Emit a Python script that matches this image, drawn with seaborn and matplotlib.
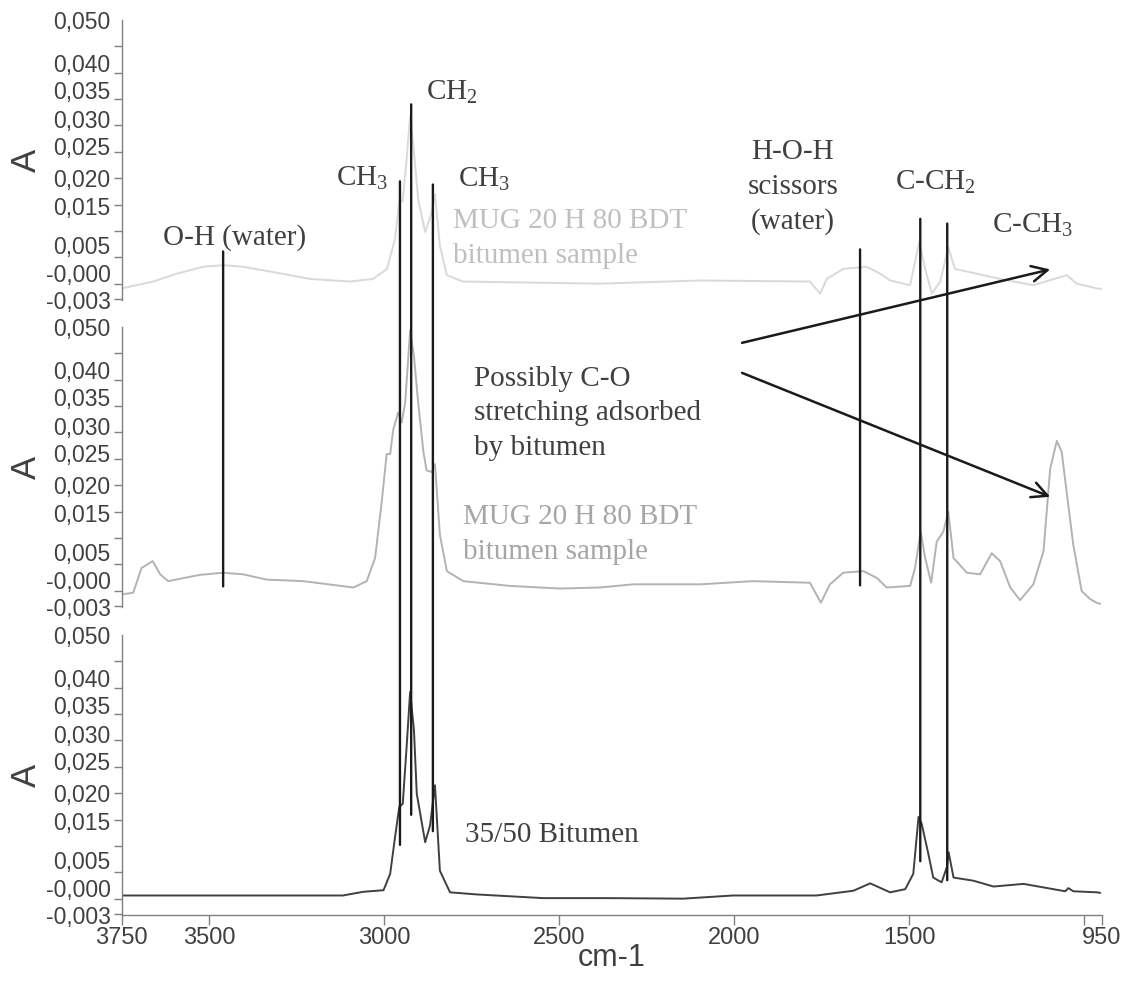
import numpy as np
import pandas as pd
import matplotlib
matplotlib.use("Agg")
import matplotlib.pyplot as plt
import seaborn as sns
from matplotlib.patches import ConnectionPatch

# ---------------- data ----------------
top_wn = [3750, 3660, 3592, 3517, 3460, 3403, 3326, 3212, 3098, 3032,
          2992, 2969, 2957, 2947, 2936, 2926, 2915, 2903, 2883, 2867,
          2855, 2841, 2821, 2775, 2384, 2098, 1784, 1755, 1736, 1689,
          1622, 1584, 1555, 1498, 1472, 1455, 1436, 1412, 1389, 1370,
          1336, 1241, 1147, 1051, 1022, 965, 950]
top_abs = [-0.0009, 0.0004, 0.0019, 0.0032, 0.0035, 0.0032, 0.0023, 0.0009, 0.0004, 0.0009,
           0.0028, 0.0085, 0.0155, 0.0157, 0.0236, 0.0318, 0.0249, 0.0160, 0.0098, 0.0129,
           0.0170, 0.0072, 0.0016, 0.0004, 0.0000, 0.0006, 0.0004, -0.0019, 0.0009, 0.0028,
           0.0032, 0.0019, 0.0006, -0.0003, 0.0079, 0.0028, -0.0019, 0.0004, 0.0069, 0.0028,
           0.0023, 0.0009, -0.0003, 0.0016, 0.0000, -0.0009, -0.0010]

mid_wn = [3750, 3717, 3693, 3661, 3640, 3617, 3526, 3460, 3403, 3336,
          3231, 3088, 3050, 3026, 3007, 2993, 2983, 2974, 2960, 2950,
          2940, 2926, 2915, 2903, 2888, 2879, 2864, 2855, 2841, 2821,
          2774, 2641, 2498, 2384, 2289, 2098, 1947, 1784, 1753, 1727,
          1689, 1631, 1593, 1565, 1498, 1484, 1468, 1455, 1438, 1422,
          1403, 1389, 1374, 1336, 1298, 1265, 1241, 1212, 1184, 1146,
          1117, 1098, 1079, 1065, 1051, 1032, 1008, 984, 965, 955]
mid_abs = [-0.0007, -0.0004, 0.0043, 0.0056, 0.0031, 0.0018, 0.0030, 0.0034, 0.0031, 0.0021,
           0.0018, 0.0006, 0.0018, 0.0062, 0.0169, 0.0259, 0.0259, 0.0306, 0.0338, 0.0319,
           0.0357, 0.0494, 0.0444, 0.0357, 0.0263, 0.0228, 0.0225, 0.0240, 0.0106, 0.0037,
           0.0018, 0.0009, 0.0004, 0.0006, 0.0012, 0.0012, 0.0018, 0.0015, -0.0023, 0.0012,
           0.0034, 0.0037, 0.0024, 0.0006, 0.0009, 0.0043, 0.0112, 0.0062, 0.0015, 0.0093,
           0.0112, 0.0150, 0.0062, 0.0034, 0.0031, 0.0071, 0.0056, 0.0006, -0.0018, 0.0012,
           0.0075, 0.0231, 0.0284, 0.0263, 0.0187, 0.0087, -0.0001, -0.0016, -0.0023, -0.0025]

bot_wn = [3750, 3118, 3060, 3002, 2983, 2969, 2957, 2947, 2936, 2926,
          2915, 2907, 2883, 2869, 2855, 2841, 2812, 2736, 2546, 2355,
          2146, 2004, 1765, 1660, 1612, 1555, 1512, 1489, 1474, 1465,
          1446, 1432, 1408, 1393, 1388, 1374, 1317, 1260, 1174, 1055,
          1046, 1032, 965, 955]
bot_abs = [0.0006, 0.0006, 0.0013, 0.0016, 0.0047, 0.0117, 0.0174, 0.0180, 0.0288, 0.0392,
           0.0319, 0.0199, 0.0107, 0.0139, 0.0215, 0.0053, 0.0012, 0.0008, 0.0001, 0.0001,
           0.0000, 0.0006, 0.0006, 0.0015, 0.0029, 0.0012, 0.0018, 0.0047, 0.0155, 0.0142,
           0.0085, 0.0040, 0.0031, 0.0060, 0.0088, 0.0040, 0.0034, 0.0023, 0.0028, 0.0014,
           0.0020, 0.0014, 0.0012, 0.0011]

series_names = ["MUG 20 H 80 BDT bitumen sample (top)",
                "MUG 20 H 80 BDT bitumen sample",
                "35/50 Bitumen"]

# y axis ticks / labels
ytick_vals = [0.050, 0.045, 0.040, 0.035, 0.030, 0.025, 0.020, 0.015, 0.010, 0.005, 0.000, -0.003]
ylabel_text = ["0,050", "0,040", "0,035", "0,030", "0,025", "0,020", "0,015", "0,005", "-0,000", "-0,003"]
ylabel_pos = [0.0500, 0.0418, 0.0367, 0.0313, 0.0261, 0.0201, 0.0147, 0.0073, 0.0020, -0.0031]

# x axis ticks / labels
xtick_major = [3750, 3500, 3000, 2500, 2000, 1500, 950]
xtick_labels = ["3750", "3500", "3000", "2500", "2000", "1500", "950"]
xtick_minor = [1000]

# band marker lines: wavenumber, top end (top panel abs), bottom end (panel, abs)
band_wn = [3460, 2955, 2923, 2861, 1641, 1469, 1392]
band_top = [0.0061, 0.0194, 0.0340, 0.0188, 0.0065, 0.0123, 0.0114]
band_bot_panel = [1, 2, 2, 2, 1, 2, 2]
band_bot = [0.0008, 0.0102, 0.0159, 0.0128, 0.0010, 0.0071, 0.0035]

# arrows (wn, abs, panel) from text to bands
arrow_tail = [(1978, 0.0470, 1), (1978, 0.0413, 1)]
arrow_head = [(1098, 0.0027, 0), (1098, 0.0178, 1)]

# ---------------- style ----------------
sns.set_style("white")
plt.rcParams["font.family"] = ["Liberation Sans", "DejaVu Sans"]
plt.rcParams["mathtext.fontset"] = "custom"
plt.rcParams["mathtext.rm"] = "Liberation Serif"
plt.rcParams["mathtext.default"] = "rm"

W, H = 1125, 981
fig = plt.figure(figsize=(W / 100, H / 100), dpi=100)

AX_COL = "#808080"
TXT_COL = "#404040"
curve_cols = ["#d9d9d9", "#b3b3b3", "#404040"]
sample_cols = ["#bfbfbf", "#a6a6a6"]

left, right = 121.6, 1102.0
panel_px = [(20, 300), (327, 607), (635, 915)]
axes = []
for (t, b) in panel_px:
    ax = fig.add_axes([left / W, 1 - b / H, (right - left) / W, (b - t) / H])
    ax.patch.set_alpha(0)
    axes.append(ax)

data = [(top_wn, top_abs), (mid_wn, mid_abs), (bot_wn, bot_abs)]
for i, ax in enumerate(axes):
    df = pd.DataFrame({"wn": data[i][0], "abs": data[i][1]})
    sns.lineplot(data=df, x="wn", y="abs", ax=ax, color=curve_cols[i], lw=1.4,
                 sort=False, estimator=None)
    ax.set_xlim(3750, 950)
    ax.set_ylim(-0.003, 0.050)
    for s in ["top", "right"]:
        ax.spines[s].set_visible(False)
    ax.spines["left"].set_color(AX_COL)
    ax.spines["left"].set_linewidth(1.0)
    ax.set_yticks(ytick_vals, minor=True)
    ax.set_yticks(ylabel_pos, labels=ylabel_text)
    ax.tick_params(axis="y", which="minor", length=6, width=1, color=AX_COL, direction="out", left=True)
    ax.tick_params(axis="y", which="major", length=0, pad=8, labelsize=16.5, labelcolor=TXT_COL)
    ax.set_ylabel("A", fontsize=25, color=TXT_COL, labelpad=2)
    ax.grid(False)
    if i < 2:
        ax.spines["bottom"].set_visible(False)
        ax.set_xticks([])
        ax.set_xlabel("")
    else:
        ax.spines["bottom"].set_color(AX_COL)
        ax.spines["bottom"].set_linewidth(1.0)
        ax.set_xticks(xtick_major, labels=xtick_labels)
        ax.set_xticks(xtick_minor, minor=True)
        ax.tick_params(axis="x", which="both", length=7, width=1, color=AX_COL, direction="out",
                       bottom=True, labelsize=17, labelcolor=TXT_COL, pad=2)
        ax.set_xlabel("cm-1", fontsize=22, color=TXT_COL, labelpad=-5)

# band lines
for wn, yt, bp, yb in zip(band_wn, band_top, band_bot_panel, band_bot):
    con = ConnectionPatch(xyA=(wn, yt), coordsA="data", axesA=axes[0],
                          xyB=(wn, yb), coordsB="data", axesB=axes[bp],
                          color="#1a1a1a", lw=1.7, zorder=10)
    fig.add_artist(con)

# arrows
for (tw, ta, tp), (hw, ha, hp) in zip(arrow_tail, arrow_head):
    con = ConnectionPatch(xyA=(tw, ta), coordsA="data", axesA=axes[tp],
                          xyB=(hw, ha), coordsB="data", axesB=axes[hp],
                          color="#1a1a1a", lw=1.8, arrowstyle="->", mutation_scale=28,
                          shrinkA=0, shrinkB=0, zorder=10)
    fig.add_artist(con)


def ftext(x, y, s, color=TXT_COL, ha="left", size=21, ls=1.43):
    fig.text(x / W, 1 - y / H, s, color=color, ha=ha, va="baseline",
             fontsize=size, family=["Liberation Serif", "DejaVu Serif"], linespacing=ls,
             multialignment=ha)

ftext(163, 245, "O-H (water)")
ftext(336, 186, r"CH$_3$")
ftext(426, 100, r"CH$_2$")
ftext(458, 187, r"CH$_3$")
ftext(453, 263, "MUG 20 H 80 BDT\nbitumen sample", color=sample_cols[0])
ftext(793, 229, "H-O-H\nscissors\n(water)", ha="center")
ftext(895, 190, r"C-CH$_2$")
ftext(992, 233, r"C-CH$_3$")
ftext(474, 455, "Possibly C-O\nstretching adsorbed\nby bitumen")
ftext(463, 559, "MUG 20 H 80 BDT\nbitumen sample", color=sample_cols[1])
ftext(465, 842, "35/50 Bitumen")

fig.savefig("out.png", dpi=100)
